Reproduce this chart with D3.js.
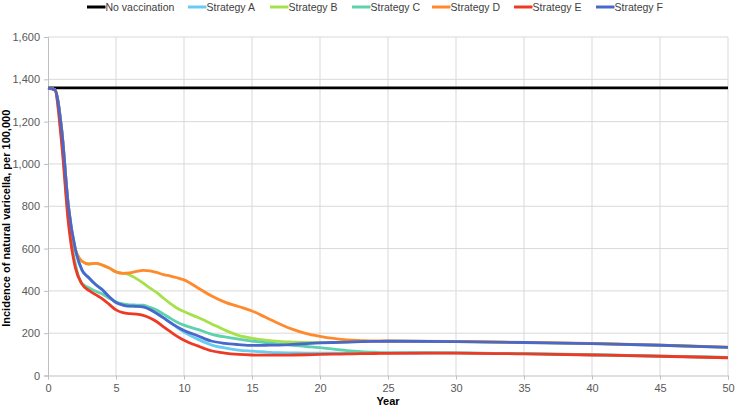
<!DOCTYPE html>
<html>
<head>
<meta charset="utf-8">
<script src="https://cdn.jsdelivr.net/npm/d3@7"></script>
<style>
  body { margin: 0; background: #fff; }
  text { font-family: "Liberation Sans", Arial, sans-serif; }
</style>
</head>
<body>
<div id="chart"></div>
<script>
var years = [0, 0.5, 1, 1.5, 2, 2.5, 3, 3.5, 4, 4.5, 5, 5.5, 6, 6.5, 7, 7.5, 8, 8.5, 9, 9.5, 10,
  11, 12, 13, 14, 15, 16, 17, 18, 19, 20, 21, 22, 23, 24, 25, 30, 35, 40, 45, 50];

var seriesNames = ["No vaccination", "Strategy A", "Strategy B", "Strategy C", "Strategy D", "Strategy E", "Strategy F"];
var seriesColors = ["#000000", "#66ccf2", "#a6e04a", "#5fd1ad", "#ff8a2e", "#ee3a24", "#4a68cc"];

var noVaccination = years.map(function(){ return 1360 });

var strategyA = [1358, 1352, 1165, 800, 600, 498, 462, 430, 405, 372, 345, 333, 328, 327, 324, 312, 293, 272, 250, 226, 205,
  172, 145, 130, 120, 115, 111, 108, 107, 106, 106, 106, 106, 106, 106, 106, 107, 103, 98, 92, 85];

var strategyB = [1358, 1352, 1165, 800, 600, 540, 527, 530, 522, 508, 490, 483, 475, 458, 437, 413, 392, 365, 340, 318, 302,
  275, 245, 215, 190, 176, 167, 161, 158, 156, 156, 157, 158, 160, 161, 162, 160, 156, 151, 143, 133];

var strategyC = [1358, 1350, 1120, 740, 530, 435, 415, 398, 385, 365, 348, 338, 334, 333, 332, 322, 309, 290, 270, 252, 238,
  218, 196, 182, 172, 163, 155, 148, 142, 137, 132, 125, 118, 113, 110, 108, 107, 103, 98, 92, 85];

var strategyD = [1358, 1352, 1165, 800, 600, 540, 527, 530, 522, 508, 490, 483, 485, 492, 497, 495, 487, 477, 470, 462, 452,
  415, 377, 347, 326, 305, 275, 245, 218, 198, 185, 175, 168, 165, 163, 163, 161, 157, 152, 144, 134];

var strategyE = [1358, 1350, 1100, 720, 512, 432, 402, 382, 362, 336, 310, 297, 292, 290, 284, 272, 254, 230, 207, 185, 167,
  140, 117, 106, 100, 97, 96, 96, 97, 98, 100, 101, 102, 103, 104, 105, 106, 102, 97, 91, 84];

var strategyF = [1358, 1352, 1165, 800, 600, 498, 462, 430, 405, 372, 345, 333, 328, 327, 324, 312, 293, 272, 250, 230, 213,
  188, 163, 152, 146, 142, 143, 144, 147, 151, 154, 156, 158, 160, 161, 162, 160, 156, 151, 143, 133];

var seriesValues = [noVaccination, strategyA, strategyB, strategyC, strategyD, strategyE, strategyF];

var yTicks = [0, 200, 400, 600, 800, 1000, 1200, 1400, 1600];
var xTicks = [0, 5, 10, 15, 20, 25, 30, 35, 40, 45, 50];

var width = 735, height = 407;
var margin = { top: 37, right: 7, bottom: 31.5, left: 48 };

var svg = d3.select("#chart").append("svg")
  .attr("width", width)
  .attr("height", height);

var x = d3.scaleLinear()
  .domain([0, 50])
  .range([margin.left, width - margin.right]);

var y = d3.scaleLinear()
  .domain([0, 1600])
  .range([height - margin.bottom, margin.top]);

// grid
svg.append("g")
  .selectAll("line.hgrid")
  .data(yTicks.slice(1))
  .enter().append("line")
  .attr("x1", x(0)).attr("x2", x(50))
  .attr("y1", function(d){ return y(d) }).attr("y2", function(d){ return y(d) })
  .attr("stroke", "#d9d9d9").attr("stroke-width", 1);

svg.append("g")
  .selectAll("line.vgrid")
  .data(xTicks.slice(1))
  .enter().append("line")
  .attr("y1", y(0)).attr("y2", y(1600))
  .attr("x1", function(d){ return x(d) }).attr("x2", function(d){ return x(d) })
  .attr("stroke", "#d9d9d9").attr("stroke-width", 1);

// axes
var yAxis = svg.append("g")
  .attr("transform", "translate(" + x(0) + ",0)")
  .call(d3.axisLeft(y).tickValues(yTicks).tickSize(4).tickPadding(4).tickFormat(d3.format(",")));

var xAxis = svg.append("g")
  .attr("transform", "translate(0," + y(0) + ")")
  .call(d3.axisBottom(x).tickValues(xTicks).tickSize(4).tickPadding(5));

[yAxis, xAxis].forEach(function(a){
  a.select(".domain").attr("stroke", "#bfbfbf");
  a.selectAll(".tick line").attr("stroke", "#bfbfbf");
  a.selectAll(".tick text")
    .attr("fill", "#595959")
    .attr("font-size", 11)
    .attr("font-family", "'Liberation Sans', Arial, sans-serif");
});

// lines
var line = d3.line()
  .x(function(d){ return x(d[0]) })
  .y(function(d){ return y(d[1]) })
  .curve(d3.curveMonotoneX);

svg.append("g")
  .selectAll("path")
  .data(seriesValues)
  .enter().append("path")
  .attr("d", function(vals){
    return line(vals.map(function(v, i){ return [years[i], v] }));
  })
  .attr("fill", "none")
  .attr("stroke", function(d, i){ return seriesColors[i] })
  .attr("stroke-width", 2.8)
  .attr("stroke-linejoin", "round");

// legend
var legendX = [87, 188, 270, 352, 432, 514, 596];
var legend = svg.append("g");
legend.selectAll("line")
  .data(seriesNames)
  .enter().append("line")
  .attr("x1", function(d, i){ return legendX[i] })
  .attr("x2", function(d, i){ return legendX[i] + 18.5 })
  .attr("y1", 7).attr("y2", 7)
  .attr("stroke", function(d, i){ return seriesColors[i] })
  .attr("stroke-width", 3);

legend.selectAll("text")
  .data(seriesNames)
  .enter().append("text")
  .attr("x", function(d, i){ return legendX[i] + 18.5 })
  .attr("y", 11)
  .attr("font-size", 10.5)
  .attr("fill", "#404040")
  .text(function(d){ return d });

// axis titles
svg.append("text")
  .attr("transform", "translate(10," + (y(800) + 12) + ") rotate(-90)")
  .attr("text-anchor", "middle")
  .attr("font-size", 11)
  .attr("font-weight", "bold")
  .attr("fill", "#000")
  .text("Incidence of natural varicella, per 100,000");

svg.append("text")
  .attr("x", (x(0) + x(50)) / 2)
  .attr("y", 405)
  .attr("text-anchor", "middle")
  .attr("font-size", 11)
  .attr("font-weight", "bold")
  .attr("fill", "#000")
  .text("Year");
</script>
</body>
</html>
